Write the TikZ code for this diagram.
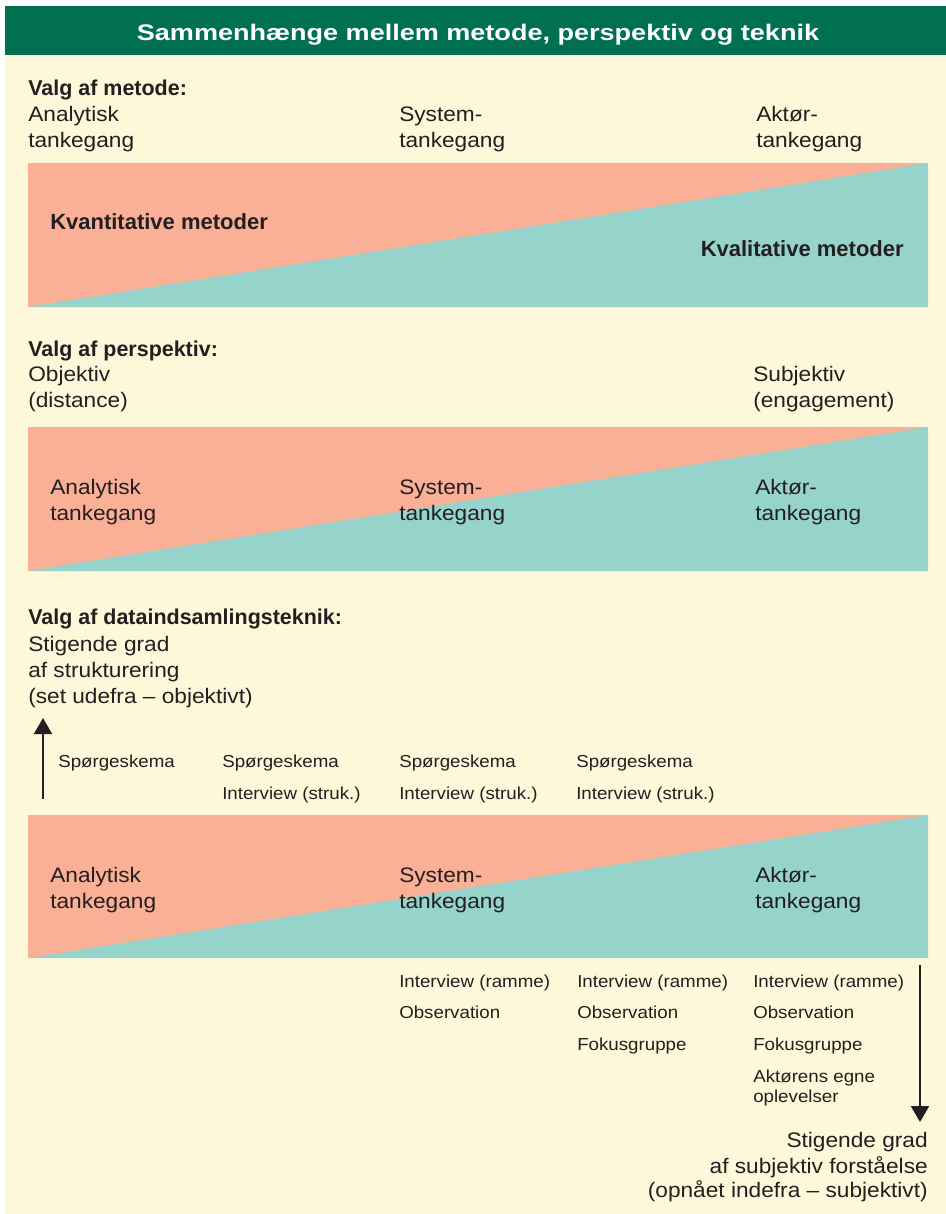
\documentclass[tikz,border=0pt]{standalone}
\usepackage{fontspec}
\setmainfont[FakeStretch=1.08]{Liberation Sans}
\newfontfamily\hdfont{Liberation Sans}
\newfontfamily\ttlfont[FakeStretch=1.2]{Liberation Sans}
\usetikzlibrary{arrows.meta}
\usepackage{xcolor}
\definecolor{hdgreen}{RGB}{0,112,80}
\definecolor{cream}{RGB}{255,247,217}
\definecolor{salmon}{RGB}{249,176,150}
\definecolor{mint}{RGB}{150,211,202}
\definecolor{ink}{RGB}{35,31,32}

\begin{document}
\begin{tikzpicture}[x=0.75pt,y=-0.75pt,
  txt/.style={anchor=base west, inner sep=0, text=ink, font=\fontsize{15.75}{18}\selectfont},
  hd/.style={anchor=base west, inner sep=0, text=ink, font=\hdfont\bfseries\fontsize{16.1}{18}\selectfont},
  sm/.style={anchor=base west, inner sep=0, text=ink, font=\fontsize{13}{15}\selectfont},
  >={Triangle[length=12pt,width=13.5pt]}]
\useasboundingbox (0,0) rectangle (946,1214);
\fill[white] (0,0) rectangle (946,1214);
\fill[cream] (5,55) rectangle (946,1214);
\fill[hdgreen] (5,6) rectangle (946,55);
\node[anchor=base, inner sep=0, text=white, font=\ttlfont\bfseries\fontsize{16.9}{18}\selectfont] (title) at (478,40) {Sammenhænge mellem metode, perspektiv og teknik};
% the three wedges
\foreach \t/\b in {163/307,427/571,815/958} {
 \fill[salmon] (28,\t) rectangle (928,\b);
 \fill[mint] (28,\b) -- (928,\t) -- (928,\b) -- cycle;
}
% metode
\node[hd] (metode) at (28,95) {Valg af metode:};
\foreach \x/\w/\n in {28/Analytisk/ana,399/System-/sys,756/Aktør-/akt} {
 \node[txt] (\n1) at (\x,121) {\w};
 \node[txt] (\n1b) at (\x,147) {tankegang};
}
\node[hd, font=\hdfont\bfseries\fontsize{16.5}{18}\selectfont] (kvant) at (50,229) {Kvantitative metoder};
\node[hd, anchor=base east, font=\hdfont\bfseries\fontsize{16.5}{18}\selectfont] (kval) at (904,256) {Kvalitative metoder};
% perspektiv
\node[hd] (persp) at (28,356) {Valg af perspektiv:};
\node[txt] (obj) at (28,381) {Objektiv};
\node[txt] (dist) at (28,407) {(distance)};
\node[txt] (subj) at (753,381) {Subjektiv};
\node[txt] (eng) at (753,407) {(engagement)};
\foreach \x/\w/\n in {50/Analytisk/ana,399/System-/sys,755/Aktør-/akt} {
 \node[txt] (\n2) at (\x,494) {\w};
 \node[txt] (\n2b) at (\x,520) {tankegang};
 \node[txt] (\n3) at (\x,882) {\w};
 \node[txt] (\n3b) at (\x,908) {tankegang};
}
% teknik
\node[hd] (teknik) at (28,624) {Valg af dataindsamlingsteknik:};
\node[txt] (op1) at (28,651) {Stigende grad};
\node[txt] (op2) at (28,677) {af strukturering};
\node[txt] (op3) at (28,703) {(set udefra -- objektivt)};
\coordinate (up0) at (43,799);
\coordinate (up1) at (43,718);
\draw[ink, line width=1.5pt, ->] (up0) -- (up1);
\node[sm] (sp1) at (58,767) {Spørgeskema};
\foreach \x/\n in {222/a,399/b,576/c} {
 \node[sm] (sp\n) at (\x,767) {Spørgeskema};
 \node[sm] (is\n) at (\x,799) {Interview (struk.)};
}
\foreach \x/\n in {399/a,577/b,753/c} {
 \node[sm] (ir\n) at (\x,987) {Interview (ramme)};
 \node[sm] (ob\n) at (\x,1018) {Observation};
}
\foreach \x/\n in {577/b,753/c} \node[sm] (fo\n) at (\x,1050) {Fokusgruppe};
\node[sm] (egne) at (753,1082) {Aktørens egne};
\node[sm] (opl) at (753,1102) {oplevelser};
\coordinate (dn0) at (920,965);
\coordinate (dn1) at (920,1122);
\draw[ink, line width=1.5pt, ->] (dn0) -- (dn1);
\node[txt, anchor=base east] (ned1) at (928,1147) {Stigende grad};
\node[txt, anchor=base east] (ned2) at (928,1173) {af subjektiv forståelse};
\node[txt, anchor=base east] (ned3) at (928,1197) {(opnået indefra -- subjektivt)};
\end{tikzpicture}
\end{document}
